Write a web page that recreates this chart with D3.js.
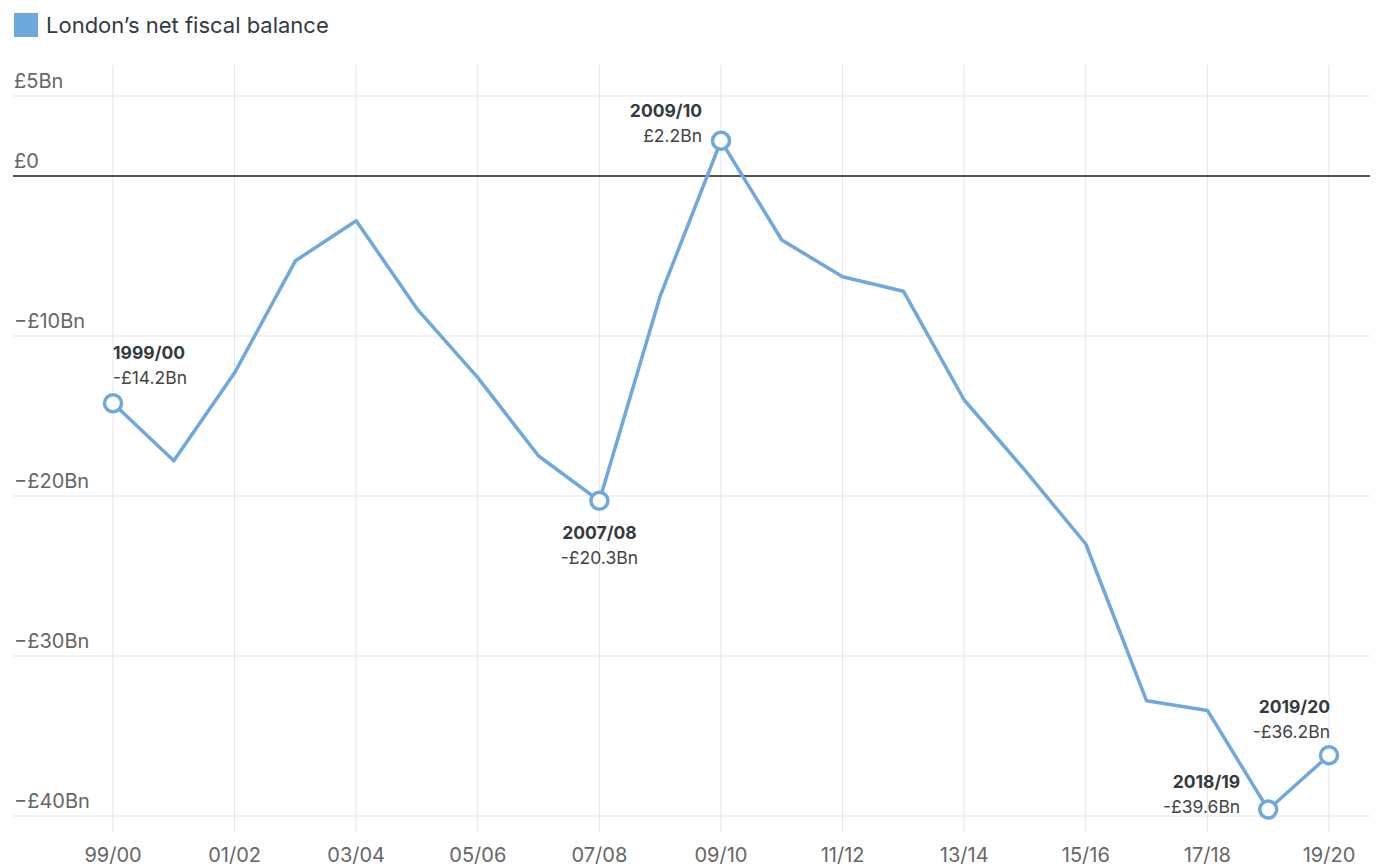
<!DOCTYPE html>
<html><head><meta charset="utf-8">
<script src="https://cdn.jsdelivr.net/npm/d3@7"></script>
<style>body{margin:0;background:#fff;font-family:Inter,"Noto Sans",sans-serif;}</style>
</head><body><svg id="c" width="1376" height="866"></svg>
<script>
const years = ["1999/00","2000/01","2001/02","2002/03","2003/04","2004/05","2005/06","2006/07","2007/08","2008/09","2009/10","2010/11","2011/12","2012/13","2013/14","2014/15","2015/16","2016/17","2017/18","2018/19","2019/20"];
const tickLabels = ["99/00","01/02","03/04","05/06","07/08","09/10","11/12","13/14","15/16","17/18","19/20"];
const balance = [-14.2,-17.8,-12.3,-5.3,-2.8,-8.3,-12.6,-17.5,-20.3,-7.5,2.2,-4.0,-6.3,-7.2,-14.0,-18.4,-23.0,-32.8,-33.4,-39.6,-36.2];
const yTicks = [5,0,-10,-20,-30,-40];
const highlights = [
  {i:0, pos:"above-right"},
  {i:8, pos:"below"},
  {i:10, pos:"left-above"},
  {i:19, pos:"left-above2"},
  {i:20, pos:"above-left"}
];
const color = "#6fa8dc";

const svg = d3.select("#c");
const x = d3.scalePoint().domain(years).range([113,1329]);
const y = d3.scaleLinear().domain([-40,5]).range([816,96]);

const fmtY = v => v===0 ? "£0" : (v<0 ? "\u2212£"+Math.abs(v)+"Bn" : "£"+v+"Bn");
const fmtV = v => (v<0 ? "-£"+Math.abs(v).toFixed(1) : "£"+v.toFixed(1))+"Bn";

// legend
svg.append("rect").attr("x",14).attr("y",13).attr("width",24).attr("height",24).attr("fill",color);
svg.append("text").attr("x",46).attr("y",33).attr("font-size",22).attr("fill","#333a40").text("London\u2019s net fiscal balance");

// vertical grid
const g = svg.append("g");
years.forEach((yr,i)=>{ if(i%2===0){
  g.append("line").attr("x1",x(yr)).attr("x2",x(yr)).attr("y1",65).attr("y2",833).attr("stroke","#e6e6e6").attr("stroke-width",1);
}});
// horizontal grid
yTicks.forEach(v=>{
  g.append("line").attr("x1",13).attr("x2",1370).attr("y1",y(v)).attr("y2",y(v))
   .attr("stroke", v===0?"#555":"#e3e3e3").attr("stroke-width", v===0?2:1);
  g.append("text").attr("x",14).attr("y",y(v)-8).attr("font-size",20).attr("fill","#666").text(fmtY(v));
});
// x tick labels
years.forEach((yr,i)=>{ if(i%2===0){
  svg.append("text").attr("x",x(yr)).attr("y",862).attr("text-anchor","middle").attr("font-size",20).attr("fill","#666").text(tickLabels[i/2]);
}});

// line
const line = d3.line().x((d,i)=>x(years[i])).y(d=>y(d));
svg.append("path").datum(balance).attr("d",line).attr("fill","none").attr("stroke",color).attr("stroke-width",3.5).attr("stroke-linejoin","round");

// highlight circles & labels
highlights.forEach(h=>{
  const cx = x(years[h.i]), cy = y(balance[h.i]);
  svg.append("circle").attr("cx",cx).attr("cy",cy).attr("r",8.5).attr("fill","#fff").attr("stroke",color).attr("stroke-width",3.5);
  let tx, ty, anchor;
  if(h.pos==="above-right"){tx=cx; ty=cy-44; anchor="start";}
  else if(h.pos==="below"){tx=cx; ty=cy+38; anchor="middle";}
  else if(h.pos==="left-above"){tx=cx-19; ty=cy-24; anchor="end";}
  else if(h.pos==="left-above2"){tx=cx-28; ty=cy-22; anchor="end";}
  else {tx=cx+1; ty=cy-42; anchor="end";}
  svg.append("text").attr("x",tx).attr("y",ty).attr("text-anchor",anchor).attr("font-size",17.5).attr("font-weight",700).attr("fill","#333a40").text(years[h.i]);
  svg.append("text").attr("x",tx).attr("y",ty+25).attr("text-anchor",anchor).attr("font-size",17.5).attr("fill","#444").text(fmtV(balance[h.i]));
});
</script></body></html>
